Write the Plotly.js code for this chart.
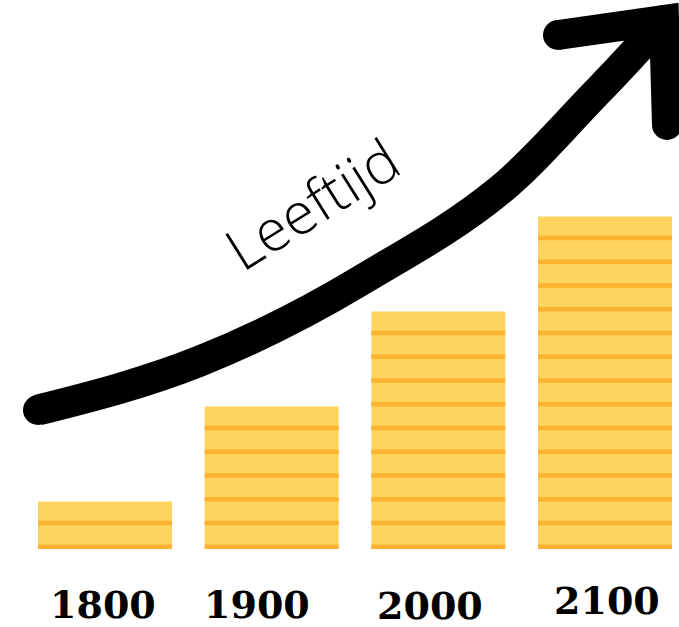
<!DOCTYPE html>
<html>
<head>
<meta charset="utf-8">
<script src="https://cdn.plot.ly/plotly-3.0.1.min.js"></script>
<style>
  html, body { margin: 0; padding: 0; background: #ffffff; }
  #chart { width: 679px; height: 627px; }
</style>
</head>
<body>
<div id="chart"></div>
<script>
// ---- data ----
const years = ['1800', '1900', '2000', '2100'];
const coins = [2, 6, 10, 14];          // number of stacked coins per bar
const arrowTitle = 'Leeftijd';

// ---- decorative arrow (figure pixel units) ----
const shaftX = [38, 200, 360, 500, 600, 664];
const shaftY = [410, 361, 281, 190, 89, 20];
const shaftSlope = [0.25, 0.4, 0.6, 0.82, 1.02, 1.1];
const headX = [558, 664, 667];
const headY = [35, 20, 125];
const labelShift = [-2, -15, -8, 2];
const labelY = [604, 604, 605, 600];

// ---- styles ----
const lightColor = '#FED35E';
const darkColor = '#FDB232';
const barWidth = 0.804;
const stripeHeight = 0.19;
const strokeW = 31;

const idx = years.map((_, i) => i);

const bodyTrace = {
  type: 'bar', x: idx, y: coins, base: idx.map(() => 0),
  width: barWidth, marker: { color: lightColor, line: { width: 0 } },
  hoverinfo: 'skip', xaxis: 'x', yaxis: 'y'
};

const sx = [], sb = [], sy = [];
coins.forEach((n, i) => {
  for (let k = 0; k < n; k++) { sx.push(i); sb.push(k); sy.push(stripeHeight); }
});
const stripeTrace = {
  type: 'bar', x: sx, y: sy, base: sb, width: barWidth,
  marker: { color: darkColor, line: { width: 0 } },
  hoverinfo: 'skip', xaxis: 'x', yaxis: 'y'
};

// smooth shaft as a chain of cubic Bezier segments (Hermite tangents)
let shaftPath = 'M' + shaftX[0] + ',' + shaftY[0];
for (let i = 0; i < shaftX.length - 1; i++) {
  const dx = (shaftX[i + 1] - shaftX[i]) / 3;
  const c1x = shaftX[i] + dx, c1y = shaftY[i] - dx * shaftSlope[i];
  const c2x = shaftX[i + 1] - dx, c2y = shaftY[i + 1] + dx * shaftSlope[i + 1];
  shaftPath += ' C' + c1x + ',' + c1y + ' ' + c2x + ',' + c2y + ' ' + shaftX[i + 1] + ',' + shaftY[i + 1];
}

const headTrace = {
  type: 'scatter', mode: 'lines', x: headX, y: headY,
  line: { color: '#000', width: 30 },
  hoverinfo: 'skip', xaxis: 'x2', yaxis: 'y2', cliponaxis: false
};
const capTrace = {
  type: 'scatter', mode: 'markers',
  x: [shaftX[0], headX[0], headX[2], shaftX[shaftX.length - 1]],
  y: [shaftY[0], headY[0], headY[2], shaftY[shaftY.length - 1]],
  marker: { color: '#000', size: 30, opacity: 1, line: { width: 0 } },
  hoverinfo: 'skip', xaxis: 'x2', yaxis: 'y2', cliponaxis: false
};

const annotations = years.map((t, i) => ({
  text: t, x: i, xref: 'x', y: labelY[i], yref: 'y2',
  xshift: labelShift[i], showarrow: false,
  xanchor: 'center', yanchor: 'middle',
  font: { family: 'DejaVu Serif', size: 38, color: '#000', weight: 'bold' }
}));
annotations.push({
  text: arrowTitle, x: 311, y: 203, xref: 'x2', yref: 'y2',
  showarrow: false, textangle: -32, xanchor: 'center', yanchor: 'middle',
  font: { family: '"Open Sans Light", "Open Sans", sans-serif', size: 58, color: '#000', weight: 300 }
});

const layout = {
  width: 679, height: 627, autosize: false,
  margin: { l: 0, r: 0, t: 0, b: 0, pad: 0 },
  paper_bgcolor: '#ffffff', plot_bgcolor: 'rgba(0,0,0,0)',
  showlegend: false, barmode: 'overlay',
  xaxis: { range: [-0.63, 3.444], visible: false, fixedrange: true },
  yaxis: { range: [-3.284, 23.116], visible: false, fixedrange: true },
  xaxis2: { overlaying: 'x', range: [0, 679], visible: false, fixedrange: true },
  yaxis2: { overlaying: 'y', range: [627, 0], visible: false, fixedrange: true },
  shapes: [{
    type: 'path', xref: 'x2', yref: 'y2', path: shaftPath,
    line: { color: '#000', width: strokeW }, fillcolor: 'rgba(0,0,0,0)', layer: 'above'
  }],
  annotations: annotations
};

Plotly.newPlot('chart', [bodyTrace, stripeTrace, headTrace, capTrace], layout,
  { staticPlot: true, displayModeBar: false });
</script>
</body>
</html>
